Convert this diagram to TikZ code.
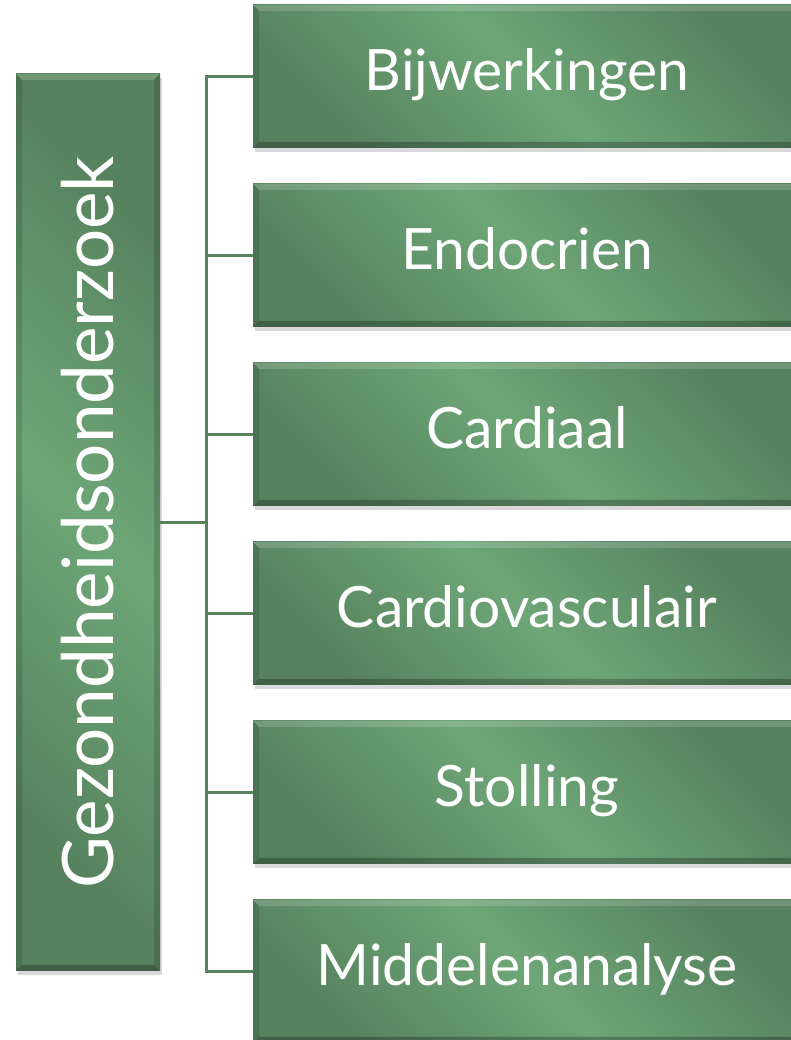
\documentclass[tikz,border=0pt]{standalone}
\usepackage{fontspec}
\setmainfont{Lato}
\usepackage{tikz}
\usetikzlibrary{positioning,shadows}
\definecolor{leafdark}{RGB}{86,130,94}
\definecolor{leaflight}{RGB}{110,166,119}

\begin{document}
\begin{tikzpicture}[x=1pt,y=1pt,font=\fontsize{57}{62}\selectfont,
  bevel/.style={path picture={
    \fill[white,opacity=.16] (path picture bounding box.north west) -- (path picture bounding box.north east)
      -- ([xshift=-6pt,yshift=-6pt]path picture bounding box.north east) -- ([xshift=6pt,yshift=-6pt]path picture bounding box.north west) -- cycle;
    \fill[black,opacity=.12] (path picture bounding box.north west) -- ([xshift=6pt,yshift=-6pt]path picture bounding box.north west)
      -- ([xshift=6pt,yshift=6pt]path picture bounding box.south west) -- (path picture bounding box.south west) -- cycle;
    \fill[black,opacity=.25] (path picture bounding box.south west) -- ([xshift=6pt,yshift=6pt]path picture bounding box.south west)
      -- ([xshift=-6pt,yshift=6pt]path picture bounding box.south east) -- (path picture bounding box.south east) -- cycle;
    \fill[black,opacity=.14] (path picture bounding box.south east) -- ([xshift=-6pt,yshift=6pt]path picture bounding box.south east)
      -- ([xshift=-6pt,yshift=-6pt]path picture bounding box.north east) -- (path picture bounding box.north east) -- cycle;}},
  box/.style={bevel,left color=leafdark,right color=leafdark,middle color=leaflight,shading angle=#1,text=white,
    drop shadow={shadow xshift=2pt,shadow yshift=-4pt,opacity=0.3}},
  topic/.style={box=-45,minimum width=548pt,minimum height=143pt,text height=41pt,text depth=12pt},
  link/.style={draw=leafdark,line width=3pt}
]
  \useasboundingbox (0,0) rectangle (791,1040);
  \node[box=-45,minimum width=144pt,minimum height=897pt] (root) at (88,517.5) {};
  \node[rotate=90,text=white,font=\fontsize{71}{76}\selectfont] (rootlabel) at (root) {Gezondheidsonderzoek};
  \node[topic] (bijw) at (527,963.5) {Bijwerkingen};
  \node[topic,below=35.6pt of bijw] (endo) {Endocrien};
  \node[topic,below=35.6pt of endo] (card) {Cardiaal};
  \node[topic,below=35.6pt of card] (cavs) {Cardiovasculair};
  \node[topic,below=35.6pt of cavs] (stol) {Stolling};
  \node[topic,below=35.6pt of stol] (midd) {Middelenanalyse};
  \draw[link] (root.east) -- ++(46pt,0) coordinate (trunk);
  \draw[link] (trunk) |- (bijw.west); \draw[link] (trunk) |- (endo.west); \draw[link] (trunk) |- (card.west);
  \draw[link] (trunk) |- (cavs.west); \draw[link] (trunk) |- (stol.west); \draw[link] (trunk) |- (midd.west);
\end{tikzpicture}
\end{document}
